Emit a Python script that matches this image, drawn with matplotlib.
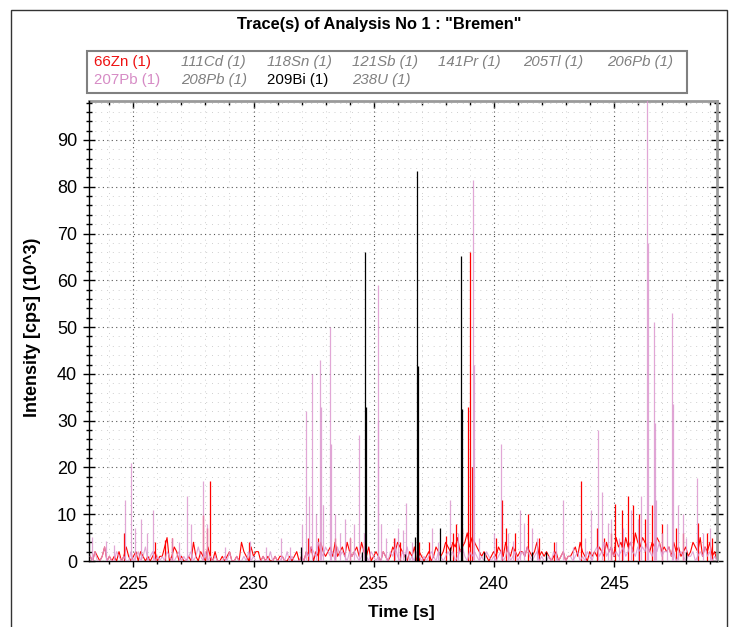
import numpy as np
import matplotlib
matplotlib.use("Agg")
import matplotlib.pyplot as plt
from matplotlib.patches import Rectangle
from matplotlib.ticker import MultipleLocator

# Arial-like font, fall back to DejaVu
plt.rcParams["font.family"] = ["Liberation Sans", "DejaVu Sans"]

# background signal is sampled every 0.1 s starting at 223.2 s
t_start = 223.2
t_step = 0.1

# 66Zn background (10^3 cps), one row per second
zn_floor = [
    1, 0, 2, 1, 0, 1, 3, 0, 1, 0,
    1, 0, 2, 0, 1, 3, 1, 0, 1, 2,
    0, 2, 1, 0, 1, 0, 1, 2, 0, 1,
    1, 3, 5, 0, 1, 3, 2, 0, 1, 0,
    0, 1, 0, 4, 1, 0, 2, 1, 0, 3,
    1, 0, 2, 0, 0, 1, 0, 1, 2, 0,
    0, 1, 0, 4, 2, 1, 0, 3, 1, 2,
    2, 0, 1, 0, 1, 0, 0, 1, 0, 1,
    1, 0, 0, 1, 0, 1, 2, 0, 1, 0,
    2, 1, 3, 0, 2, 1, 4, 2, 1, 2,
    3, 1, 4, 1, 2, 3, 1, 4, 2, 1,
    2, 3, 1, 4, 2, 1, 3, 0, 1, 2,
    1, 0, 2, 1, 0, 1, 3, 2, 4, 3,
    2, 1, 0, 2, 1, 3, 0, 2, 1, 0,
    1, 2, 0, 1, 3, 2, 1, 2, 4, 3,
    2, 4, 3, 5, 2, 3, 4, 6, 3, 5,
    4, 3, 2, 1, 2, 1, 0, 1, 2, 1,
    3, 2, 1, 4, 2, 1, 3, 2, 1, 2,
    2, 1, 3, 2, 1, 2, 4, 1, 2, 1,
    2, 1, 0, 1, 2, 0, 1, 2, 0, 1,
    1, 2, 3, 1, 4, 2, 1, 0, 2, 1,
    2, 1, 3, 2, 1, 4, 2, 3, 1, 5,
    3, 4, 2, 5, 3, 4, 2, 6, 4, 3,
    5, 4, 3, 2, 4, 3, 5, 4, 2, 3,
    2, 3, 1, 4, 2, 3, 1, 2, 3, 1,
    2, 4, 3, 2, 5, 1, 3, 2, 4, 1,
    2, 0,
]

# 207Pb background
pb207_floor = [
    1, 0, 2, 0, 0, 1, 3, 0, 1, 0,
    0, 2, 1, 0, 1, 0, 0, 2, 0, 1,
    2, 0, 1, 3, 0, 1, 2, 0, 1, 0,
    1, 0, 2, 1, 0, 0, 1, 2, 0, 1,
    0, 1, 2, 0, 1, 3, 1, 0, 2, 0,
    1, 0, 1, 0, 0, 0, 1, 0, 2, 0,
    0, 1, 0, 0, 1, 0, 2, 0, 1, 0,
    0, 0, 1, 0, 0, 2, 0, 1, 0, 0,
    1, 0, 2, 0, 1, 0, 0, 0, 1, 0,
    2, 1, 3, 2, 1, 4, 2, 1, 3, 2,
    1, 2, 0, 3, 1, 2, 1, 0, 2, 1,
    2, 1, 0, 1, 3, 1, 0, 2, 1, 0,
    1, 0, 2, 1, 0, 2, 1, 3, 1, 0,
    2, 1, 3, 0, 1, 0, 2, 1, 0, 1,
    0, 1, 2, 1, 0, 2, 1, 0, 1, 2,
    1, 2, 0, 1, 2, 3, 1, 0, 2, 1,
    2, 1, 0, 1, 0, 2, 1, 0, 1, 0,
    1, 2, 0, 1, 3, 0, 1, 2, 0, 1,
    2, 1, 3, 1, 0, 1, 2, 0, 1, 0,
    0, 1, 0, 2, 1, 0, 1, 2, 0, 1,
    1, 0, 1, 2, 0, 1, 0, 2, 1, 0,
    2, 3, 1, 2, 4, 1, 2, 3, 1, 2,
    1, 2, 3, 1, 2, 4, 2, 1, 3, 2,
    3, 2, 4, 2, 1, 3, 2, 4, 1, 2,
    2, 3, 1, 2, 0, 1, 2, 1, 0, 1,
    1, 2, 0, 1, 2, 1, 3, 1, 2, 0,
    1, 0,
]

# single-sample spikes (time s, 10^3 cps)
zn_spike_t = [224.62, 225.9, 226.33, 226.6, 227.9, 228.05, 228.2, 229.8,
              232.25, 232.7, 233.4, 234.0, 235.86, 236.1, 236.9, 237.3,
              238.0, 238.3, 238.45, 238.7, 238.95, 239.02, 239.1, 240.1,
              240.33, 240.5, 240.9, 241.44, 241.9, 242.5, 243.65, 244.3,
              244.6, 244.9, 245.07, 245.36, 245.58, 245.82, 246.05, 246.3,
              246.6, 247.0, 247.6, 247.9, 248.5, 248.9, 249.1]
zn_spike_v = [6, 4, 4.5, 5, 9.8, 7, 17, 4,
              5, 5, 5, 5, 5, 4, 4, 4,
              5.4, 6, 8, 7, 33, 66, 20, 5,
              13, 7, 6, 10, 5, 4, 17.2, 7,
              5, 6, 12.2, 11, 14, 12, 10, 9,
              12, 8, 7, 6, 8.2, 6, 5]

pb207_spike_t = [223.26, 223.84, 224.2, 224.66, 224.88, 225.05, 225.31, 225.55,
                 225.82, 226.62, 226.9, 227.25, 227.4, 227.9, 228.05, 228.8,
                 229.86, 230.5, 231.13, 231.5, 232.0, 232.17, 232.3, 232.43,
                 232.6, 232.75, 232.8, 232.9, 233.18, 233.22, 233.4, 233.6,
                 233.8, 234.0, 234.2, 234.4, 234.6, 235.17, 235.2, 235.3,
                 235.5, 235.9, 236.0, 236.24, 236.33, 236.6, 236.8, 237.44,
                 237.7, 238.2, 238.5, 239.14, 239.18, 239.4, 240.0, 240.3,
                 240.6, 240.8, 241.1, 241.27, 241.6, 241.8, 242.6, 242.9,
                 243.3, 243.8, 244.05, 244.34, 244.5, 244.76, 244.9, 245.2,
                 245.4, 245.7, 246.0, 246.12, 246.38, 246.42, 246.69, 246.72,
                 246.75, 247.0, 247.2, 247.42, 247.45, 247.69, 247.9, 248.0,
                 248.46, 248.7, 249.0]
pb207_spike_v = [5.2, 4.2, 3.5, 13, 21, 7, 8.9, 5.9,
                 10.9, 5, 4, 14, 8, 17, 8, 3,
                 4.2, 3, 5, 3, 8, 32, 14, 40,
                 10, 43, 33, 12, 50, 25, 10, 6,
                 9, 5, 8, 27, 6, 59, 30, 8,
                 5, 5, 7, 6.6, 12.3, 4, 5, 7,
                 4, 13, 6, 81.4, 42, 5, 6, 25,
                 6, 4.2, 10.9, 8.1, 7, 5, 4, 13,
                 3, 5, 10.9, 28, 14.8, 8.1, 9, 5,
                 7, 10.9, 9, 13.8, 105, 68, 51, 29.6,
                 13, 6, 8, 53, 33.6, 12, 10, 5,
                 17.7, 6, 7]

bi209_spike_t = [231.98, 234.5, 234.66, 234.7, 236.3, 236.72, 236.79, 236.83,
                 237.78, 238.2, 238.66, 238.7, 239.6, 241.6, 242.2, 248.0]
bi209_spike_v = [2.9, 2, 66, 33, 1.5, 5.2, 83.4, 41.7,
                 7, 3, 65.3, 32.4, 2, 2, 2, 2]

# legend of the software, filled row by row
legend_names = ["66Zn (1)", "111Cd (1)", "118Sn (1)", "121Sb (1)", "141Pr (1)",
                "205Tl (1)", "206Pb (1)", "207Pb (1)", "208Pb (1)", "209Bi (1)",
                "238U (1)"]
legend_colors = ["#ee1111", "#808080", "#808080", "#808080", "#808080",
                 "#808080", "#808080", "#d68bc5", "#808080", "#000000",
                 "#808080"]
legend_shown = [True, False, False, False, False,
                False, False, True, False, True,
                False]

W, H = 730, 627
PINK = "#dc98cf"


def fx(px):
    return px / W


def fy(py):
    return 1 - py / H


def main():
    fig = plt.figure(figsize=(W / 100, H / 100), dpi=100)

    # outer frame of the window
    fig.patches.append(Rectangle((fx(10.5), -0.05), fx(716), fy(10) + 0.05,
                                 transform=fig.transFigure, fill=False,
                                 ec="#333333", lw=1))

    fig.text(fx(379), fy(24), 'Trace(s) of Analysis No 1 : "Bremen"',
             ha="center", va="center", fontsize=11.8, fontweight="bold")

    # legend box
    fig.patches.append(Rectangle((fx(87), fy(92.7)), fx(599.5), (92.7 - 50.7) / H,
                                 transform=fig.transFigure, fill=True, fc="white",
                                 ec="#808080", lw=1.5))
    col_x = [94, 181, 267, 352, 438, 523, 607.5]
    row_y = [61.7, 80]
    for i, name in enumerate(legend_names):
        r, c = divmod(i, 7)
        fig.text(fx(col_x[c]), fy(row_y[r]), name, ha="left", va="center",
                 fontsize=10.8, color=legend_colors[i],
                 style="normal" if legend_shown[i] else "italic")

    ax = fig.add_axes([fx(89), fy(561), fx(717 - 89), (561 - 100.7) / H])

    t_zn = t_start + t_step * np.arange(len(zn_floor))
    t_pb = t_start + t_step * np.arange(len(pb207_floor))

    ax.plot(t_zn, zn_floor, color="#ff0000", lw=0.8, zorder=2)
    ax.vlines(zn_spike_t, 0, zn_spike_v, color="#ff0000", lw=0.9, zorder=2)
    ax.plot(t_pb, pb207_floor, color=PINK, lw=0.8, alpha=0.85, zorder=3)
    ax.vlines(pb207_spike_t, 0, pb207_spike_v, color=PINK, lw=0.9,
              alpha=0.85, zorder=3)
    ax.vlines(bi209_spike_t, 0, bi209_spike_v, color="#000000", lw=0.9, zorder=4)

    ax.set_xlim(223.15, 249.3)
    ax.set_ylim(0, 98.4)

    ax.xaxis.set_major_locator(MultipleLocator(5))
    ax.xaxis.set_minor_locator(MultipleLocator(1))
    ax.yaxis.set_major_locator(MultipleLocator(10))
    ax.yaxis.set_minor_locator(MultipleLocator(2))

    ax.set_axisbelow(True)
    ax.grid(which="major", color="#555555", linestyle=(0, (1, 3)), lw=0.8)
    ax.grid(which="minor", color="#cfcfcf", linestyle=(0, (1, 5)), lw=0.7)

    ax.tick_params(axis="y", which="major", direction="inout", length=9,
                   width=1, labelsize=13, pad=4, right=True)
    ax.tick_params(axis="y", which="minor", direction="inout", length=5,
                   width=1, right=True)
    ax.tick_params(axis="x", which="major", direction="out", length=4.5,
                   width=1, labelsize=13, pad=6)
    ax.tick_params(axis="x", which="minor", direction="out", length=2.5, width=1)

    # ticks pointing in along the top
    top = ax.secondary_xaxis("top")
    top.xaxis.set_major_locator(MultipleLocator(5))
    top.xaxis.set_minor_locator(MultipleLocator(1))
    top.tick_params(which="major", direction="in", length=5, width=1, labeltop=False)
    top.tick_params(which="minor", direction="in", length=3, width=1)
    top.spines["top"].set_color("#9a9a9a")
    top.spines["top"].set_linewidth(2)

    for side in ["left", "bottom"]:
        ax.spines[side].set_color("black")
        ax.spines[side].set_linewidth(1)
    ax.spines["right"].set_color("#9a9a9a")
    ax.spines["right"].set_linewidth(2)
    ax.spines["top"].set_visible(False)

    fig.text(fx(33), fy(327), "Intensity [cps] (10^3)", rotation=90,
             ha="center", va="center", fontsize=13, fontweight="bold")
    fig.text(fx(401), fy(612), "Time [s]", ha="center", va="center",
             fontsize=12.5, fontweight="bold")

    fig.savefig("out.png", dpi=100)


if __name__ == "__main__":
    main()
